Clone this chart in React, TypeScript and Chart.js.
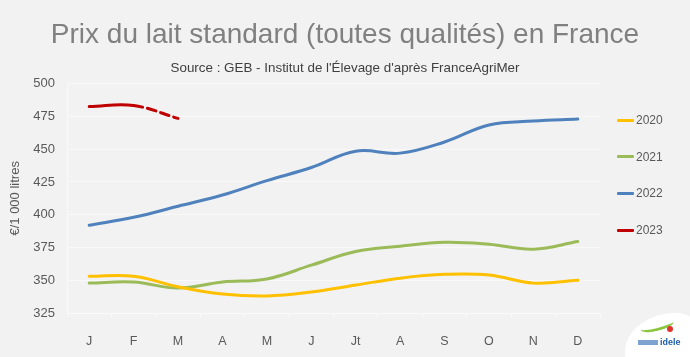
import React, { useEffect, useRef } from "react";
import { Chart, registerables } from "chart.js";

Chart.register(...registerables);

const months = ["J", "F", "M", "A", "M", "J", "Jt", "A", "S", "O", "N", "D"];
const seriesNames = ["2020", "2021", "2022", "2023"];
const values2020 = [353, 353, 345, 339.5, 338, 341, 346.3, 351.6, 354.5, 354, 347.8, 350];
const values2021 = [347.8, 348.6, 344, 348.6, 351, 361.5, 372, 376, 379, 377.5, 373.7, 379.5];
const values2022 = [392, 398, 406.5, 415, 426, 436, 448.5, 447, 455.5, 468.5, 471.5, 473];
const values2023 = [482.5, 483.3, 473.5];
const seriesColors = ["#ffc000", "#9bbb59", "#4f81bd", "#c00000"];
const yMin = 325;
const yMax = 500;
const yStep = 25;

const titleText = "Prix du lait standard (toutes qualités) en France";
const subtitleText = "Source : GEB - Institut de l'Élevage d'après FranceAgriMer";
const yAxisTitle = "€/1 000 litres";

const FONT = "'Liberation Sans', Arial, sans-serif";

export default function App() {
  const canvasRef = useRef<HTMLCanvasElement | null>(null);

  useEffect(() => {
    const allValues = [values2020, values2021, values2022, values2023];
    const chart = new Chart(canvasRef.current as HTMLCanvasElement, {
      type: "line",
      data: {
        labels: months,
        datasets: seriesNames.map((name, i) => ({
          label: name,
          data: allValues[i],
          borderColor: seriesColors[i],
          backgroundColor: seriesColors[i],
          borderWidth: 3,
          pointRadius: 0,
          tension: 0.4,
          fill: false,
          borderCapStyle: "round" as const,
          yAxisID: "y",
          segment:
            name === "2023"
              ? { borderDash: (ctx: any) => (ctx.p0DataIndex >= 1 ? [9, 5] : undefined) }
              : undefined,
        })),
      },
      options: {
        animation: false,
        responsive: false,
        maintainAspectRatio: false,
        layout: { padding: 0 },
        plugins: {
          legend: { display: false },
          tooltip: { enabled: false },
          title: {
            display: true,
            text: titleText,
            color: "#808080",
            font: { family: FONT, size: 28, weight: "normal" },
            padding: { top: 18, bottom: 9 },
          },
          subtitle: {
            display: true,
            text: subtitleText,
            color: "#404040",
            font: { family: FONT, size: 13.4, weight: "normal" },
            padding: { top: 0, bottom: 7 },
          },
        },
        scales: {
          x: {
            offset: true,
            grid: {
              offset: true,
              drawOnChartArea: false,
              drawTicks: true,
              tickLength: 4,
              color: "#fafafa",
            },
            border: { display: true, color: "#fafafa", width: 1 },
            ticks: {
              color: "#595959",
              font: { family: FONT, size: 12.5 },
              padding: 17,
              autoSkip: false,
              maxRotation: 0,
            },
            afterFit: (scale: any) => {
              scale.height = 44;
            },
          },
          y: {
            min: yMin,
            max: yMax,
            ticks: {
              stepSize: yStep,
              color: "#595959",
              font: { family: FONT, size: 13 },
              padding: 12,
            },
            grid: { color: "#f9f9f9", drawTicks: false, lineWidth: 1 },
            border: { display: true, color: "#f9f9f9" },
            title: {
              display: true,
              text: yAxisTitle,
              color: "#595959",
              font: { family: FONT, size: 13 },
              padding: { top: 8, bottom: 0 },
            },
            afterFit: (scale: any) => {
              scale.width = 67;
            },
          },
          legendSpace: {
            type: "linear",
            position: "right",
            min: yMin,
            max: yMax,
            display: true,
            grid: { display: false, drawOnChartArea: false, drawTicks: false },
            border: { display: false },
            ticks: { display: false },
            afterFit: (scale: any) => {
              scale.width = 90;
            },
          },
        },
      },
    });
    return () => chart.destroy();
  }, []);

  return (
    <div
      style={{
        position: "fixed",
        left: 0,
        top: 0,
        width: 690,
        height: 357,
        background: "#f2f2f2",
        overflow: "hidden",
      }}
    >
      <canvas ref={canvasRef} width={690} height={357} style={{ display: "block" }} />
      {seriesNames.map((name, i) => (
        <div
          key={name}
          style={{
            position: "absolute",
            left: 617,
            top: 111 + i * 36.7,
            height: 18,
            display: "flex",
            alignItems: "center",
            fontFamily: FONT,
            fontSize: 12,
            color: "#595959",
          }}
        >
          <span
            style={{
              display: "inline-block",
              width: 17,
              height: 3,
              background: seriesColors[i],
              marginRight: 2,
              borderRadius: 1,
            }}
          />
          {name}
        </div>
      ))}
      <div
        style={{
          position: "absolute",
          left: 624,
          top: 314,
          width: 80,
          height: 60,
          background: "#ffffff",
          borderRadius: "60% 40% 0 0",
          transform: "rotate(-8deg)",
        }}
      />
      <div
        style={{
          position: "absolute",
          left: 640,
          top: 320,
          width: 34,
          height: 8,
          borderBottom: "3px solid #8cc63f",
          borderRadius: "50%",
          transform: "rotate(-14deg)",
        }}
      />
      <div
        style={{
          position: "absolute",
          left: 667,
          top: 326,
          width: 6,
          height: 6,
          borderRadius: "50%",
          background: "#e0312b",
        }}
      />
      <div
        style={{
          position: "absolute",
          left: 660,
          top: 337,
          fontFamily: FONT,
          fontSize: 9,
          fontWeight: "bold",
          color: "#1f5fa8",
        }}
      >
        idele
      </div>
      <div
        style={{
          position: "absolute",
          left: 638,
          top: 340,
          width: 20,
          height: 5,
          background: "#7fa3d0",
        }}
      />
    </div>
  );
}
